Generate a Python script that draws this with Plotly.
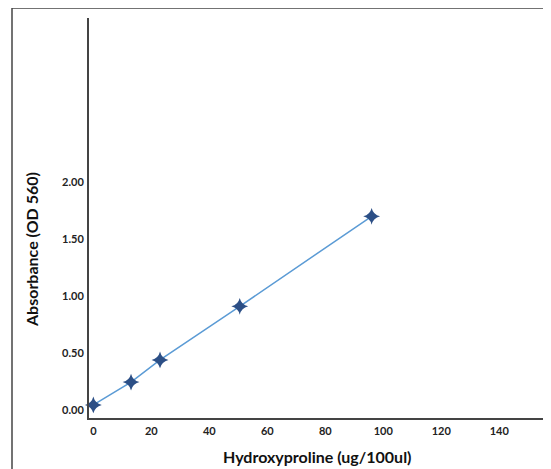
import plotly.graph_objects as go

hydroxyproline = [0, 13, 23, 50.5, 96]
absorbance = [0.045, 0.245, 0.44, 0.91, 1.70]
y_ticks = [0, 0.5, 1.0, 1.5, 2.0]
y_tick_labels = ["0.00", "0.50", "1.00", "1.50", "2.00"]
x_ticks = [0, 20, 40, 60, 80, 100, 120, 140]

OFF = 8  # page body margin
W, H = 551 - OFF, 469 - OFF
L, R, T, B = 89 - OFF, 6, 18 - OFF, 51
pw, ph = W - L - R, H - T - B

def px(x):
    return (x - OFF - L) / pw

def py(y):
    return (H - B - (y - OFF)) / ph

fig = go.Figure()
fig.add_trace(go.Scatter(
    x=hydroxyproline, y=absorbance, mode="lines+markers",
    line=dict(color="#5b9bd5", width=1.5),
    marker=dict(symbol="star-diamond", size=12, color="#2c4f86",
                line=dict(width=0)),
    showlegend=False, cliponaxis=False,
))

font_family = "Lato, 'Open Sans', Arial, sans-serif"
fig.update_layout(
    width=W, height=H,
    margin=dict(l=L, r=R, t=T, b=B, pad=0),
    paper_bgcolor="white", plot_bgcolor="white",
    font=dict(family=font_family, color="#222"),
    xaxis=dict(range=[-1.5, 155.8], tickvals=x_ticks, showgrid=False,
               zeroline=False, showline=True, linecolor="#444", linewidth=2,
               ticks="", tickfont=dict(size=11, family=font_family, weight="bold"),
               ticklabelstandoff=2),
    yaxis=dict(range=[-0.07, 3.44], tickvals=y_ticks, ticktext=y_tick_labels,
               showgrid=False, zeroline=False, showline=True, linecolor="#444",
               linewidth=2, ticks="", ticklabelstandoff=1,
               tickfont=dict(size=11, family=font_family, weight="bold")),
    shapes=[
        dict(type="line", xref="paper", yref="paper", x0=px(12), x1=px(551),
             y0=py(8), y1=py(8), line=dict(color="#444", width=1.5)),
        dict(type="line", xref="paper", yref="paper", x0=px(12), x1=px(12),
             y0=py(8), y1=py(469), line=dict(color="#444", width=1.5)),
    ],
    annotations=[
        dict(text="<b>Absorbance (OD 560)</b>", xref="paper", yref="paper",
             x=px(31), y=py(250), textangle=-90, showarrow=False,
             font=dict(size=16, family=font_family, color="#111"),
             xanchor="center", yanchor="middle"),
        dict(text="<b>Hydroxyproline (ug/100ul)</b>", xref="paper", yref="paper",
             x=px(317), y=py(456), showarrow=False,
             font=dict(size=16, family=font_family, color="#111"),
             xanchor="center", yanchor="middle"),
    ],
)

fig.write_html("out.html")
